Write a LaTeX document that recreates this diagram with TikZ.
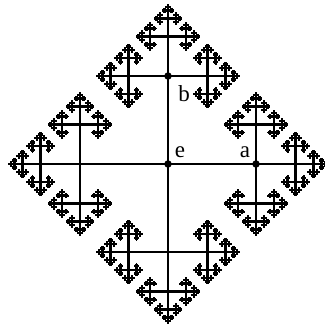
\documentclass[tikz,border=0pt]{standalone}
\usepackage{fontspec}
\setmainfont{Liberation Serif}
\usetikzlibrary{positioning}

% shrink factor from one generation of edges to the next
\newcommand\ratio{0.45}
% #1,#2 start, #3 direction, #4 length
\newcommand\grow[4]{%
  \ifdim#4pt>0.7pt
    \begingroup
      \draw[edge] (#1,#2) -- ++({#4*cos(#3)},{#4*sin(#3)});
      \pgfmathsetmacro\nx{#1+#4*cos(#3)}%
      \pgfmathsetmacro\ny{#2+#4*sin(#3)}%
      \pgfmathsetmacro\nl{#4*\ratio}%
      \foreach \turn in {-90,0,90}{%
        \pgfmathsetmacro\na{#3+\turn}%
        \grow{\nx}{\ny}{\na}{\nl}}%
    \endgroup
  \fi}

\begin{document}
\begin{tikzpicture}[x=1pt, y=1pt,
      edge/.style={line width=2.3pt, black},
      dot/.style={circle, fill=black, inner sep=0pt, minimum size=7.5pt},
      lbl/.style={font=\fontsize{23}{23}\selectfont, inner sep=0pt}]
    \useasboundingbox (0,0) rectangle (324,328);
    \foreach \d in {0,90,180,270}{\grow{168}{164}{\d}{88}}
    \node[dot] (e) at (168,164) {};
    \node[dot] (a) at (256,164) {};
    \node[dot] (b) at (168,252) {};
    \node[lbl] (le) at ([shift={(12,12)}]e) {e};
    \node[lbl] (la) at ([shift={(-11,12)}]a) {a};
    \node[lbl] (lb) at ([shift={(16,-18)}]b) {b};
  \end{tikzpicture}
\end{document}
